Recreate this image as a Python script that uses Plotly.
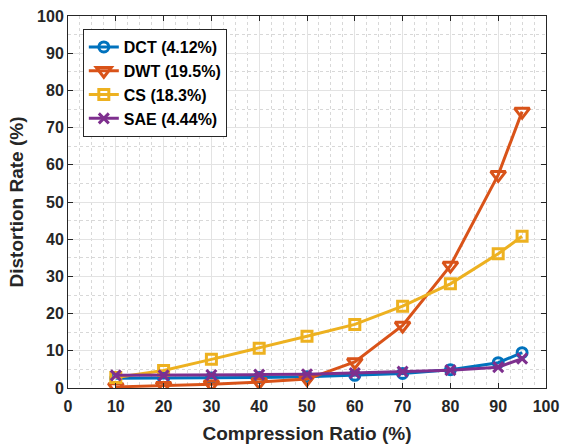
import plotly.graph_objects as go

# Compression ratio (%) at which each method was evaluated
ratio = [10, 20, 30, 40, 50, 60, 70, 80, 90, 95]

# Distortion rate (%) per method
dct = [2.6, 2.6, 2.7, 2.8, 3.0, 3.4, 3.9, 4.9, 6.8, 9.5]
dwt = [0.3, 0.6, 1.0, 1.6, 2.4, 7.0, 16.8, 32.9, 57.3, 74.3]
cs = [2.8, 4.7, 7.7, 10.7, 13.9, 17.1, 22.0, 28.0, 36.1, 40.8]
sae = [3.4, 3.4, 3.5, 3.6, 3.7, 4.0, 4.4, 4.8, 5.6, 7.9]

names = ["DCT (4.12%)", "DWT (19.5%)", "CS (18.3%)", "SAE (4.44%)"]
colors = ["#0072BD", "#D95319", "#EDB120", "#7E2F8E"]
symbols = ["circle-open", "triangle-down-open", "square-open", "x-thin-open"]
sizes = [10, 13, 10, 10]

x_ticks = [0, 10, 20, 30, 40, 50, 60, 70, 80, 90, 100]
y_ticks = [0, 10, 20, 30, 40, 50, 60, 70, 80, 90, 100]

FONT = "Liberation Sans, Arial"

fig = go.Figure()
for series, name, color, sym, sz in zip([dct, dwt, cs, sae], names, colors, symbols, sizes):
    fig.add_trace(go.Scatter(
        x=ratio, y=series, name=f"<b>{name}</b>", mode="lines+markers",
        line=dict(color=color, width=3),
        marker=dict(symbol=sym, size=sz, color=color,
                    line=dict(color=color, width=3)),
    ))

axis_common = dict(
    showline=True, linecolor="#262626", linewidth=1, mirror="ticks",
    ticks="inside", ticklen=5, tickcolor="#262626",
    showgrid=True, gridcolor="#E3E3E3", gridwidth=1,
    zeroline=False, automargin=False,
    tickfont=dict(family=FONT, size=16, color="#262626"),
    title_font=dict(family=FONT, size=19, color="#262626"),
)

fig.update_xaxes(
    range=[0, 100], tickvals=x_ticks,
    ticktext=[f"<b>{v}</b>" for v in x_ticks],
    ticklabelstandoff=4,
    title_text="<b>Compression Ratio (%)</b>", title_standoff=12,
    minor=dict(dtick=2.5, showgrid=True, gridcolor="#D8D8D8",
               griddash="dot", gridwidth=1, ticks=""),
    **axis_common,
)
fig.update_yaxes(
    range=[0, 100], tickvals=y_ticks,
    ticktext=[f"<b>{v}</b>" for v in y_ticks],
    title_text="<b>Distortion Rate (%)</b>", title_standoff=8,
    minor=dict(dtick=5, showgrid=True, gridcolor="#D8D8D8",
               griddash="dot", gridwidth=1, ticks=""),
    **axis_common,
)

fig.update_layout(
    width=561, height=446,
    margin=dict(l=68, r=15, t=16, b=58),
    paper_bgcolor="white", plot_bgcolor="white",
    legend=dict(
        x=0.031, y=0.965, xanchor="left", yanchor="top",
        bgcolor="white", bordercolor="#262626", borderwidth=1,
        font=dict(family=FONT, size=16, color="#000000"),
        itemwidth=30, tracegroupgap=0,
    ),
    showlegend=True,
)

fig.write_html("out.html")
